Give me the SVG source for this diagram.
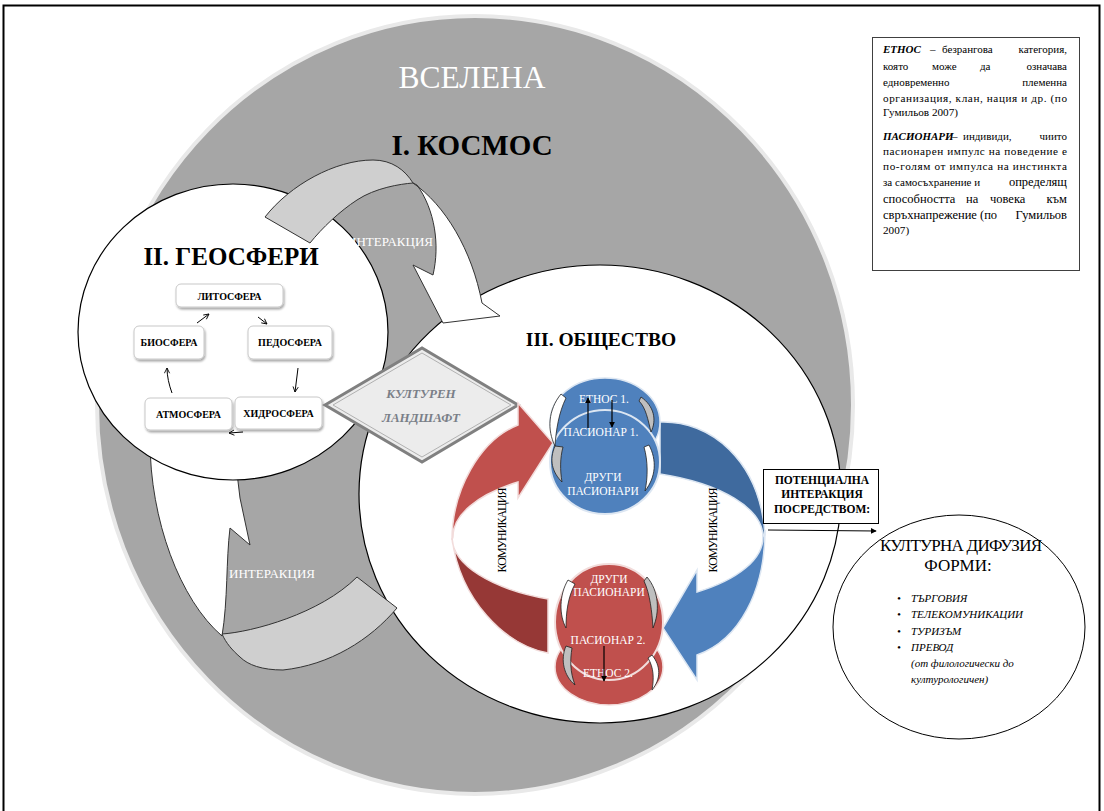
<svg xmlns="http://www.w3.org/2000/svg" width="1104" height="811" viewBox="0 0 1104 811">
<defs>
<style>
.serif{font-family:"Liberation Serif","Times New Roman",serif}
.gbox{fill:#fff;stroke:#c8c8c8;stroke-width:1;filter:url(#sh)}
.gtxt{font-family:"Liberation Serif",serif;font-weight:bold;font-size:10px;text-anchor:middle;fill:#000}
.thin{stroke:#000;stroke-width:1;fill:none}
.wt{fill:#fff;font-family:"Liberation Serif",serif;font-size:11.5px;text-anchor:middle}
.bx{font-family:"Liberation Serif",serif;font-size:11px;fill:#000}
.bxe{font-family:"Liberation Serif",serif;font-size:11px;fill:#000;text-anchor:end}
.mid{font-size:11.2px}
.big{font-size:12.5px}
.bi{font-weight:bold;font-style:italic}
.bul{font-family:"Liberation Serif",serif;font-size:11px;font-style:italic;fill:#000}
.cres{stroke:#222;stroke-width:0.8}
</style>
<filter id="sh" x="-20%" y="-20%" width="140%" height="150%"><feDropShadow dx="1" dy="2" stdDeviation="1.2" flood-color="#000" flood-opacity="0.35"/></filter>
<marker id="v" viewBox="0 0 8 8" refX="7" refY="4" markerWidth="7" markerHeight="7" markerUnits="userSpaceOnUse" orient="auto"><path d="M1,1 L7,4 L1,7" fill="none" stroke="#000" stroke-width="1"/></marker>
<marker id="tri" viewBox="0 0 8 8" refX="7" refY="4" markerWidth="6" markerHeight="6" markerUnits="userSpaceOnUse" orient="auto"><path d="M0,0 L8,4 L0,8 Z" fill="#000"/></marker>
</defs>

<!-- frame -->
<rect x="3.5" y="5.5" width="1096" height="830" fill="#fff" stroke="#000" stroke-width="2"/>

<!-- cosmos -->
<g id="vselena">
<ellipse cx="475" cy="405" rx="378" ry="389" fill="#a6a6a6" stroke="#e9e9e9" stroke-width="4"/>
<text x="472" y="88" class="serif" font-size="31.5" fill="#fff" text-anchor="middle">ВСЕЛЕНА</text>
<text x="472" y="155" class="serif" font-size="29" font-weight="bold" fill="#000" text-anchor="middle">I. КОСМОС</text>
</g>

<!-- society ellipse -->
<g id="obshtestvo">
<ellipse cx="600" cy="494" rx="241" ry="229" fill="#fff" stroke="#000" stroke-width="1.2"/>
<text x="601" y="346" class="serif" font-size="19.5" font-weight="bold" fill="#000" text-anchor="middle">III. ОБЩЕСТВО</text>
</g>

<!-- lower interaction arrow -->
<g id="interaction-bottom">
<path d="M150,440 C150,520 180,600 222,636 C228,600 226,560 230,528 L250,545 L240,498 L233,440 Z" fill="#fff" stroke="#333" stroke-width="1"/>
<path d="M222,634 C252,632 320,614 357,577 L397,608 C370,640 330,665 283,670 C262,670 248,665 240,657 C232,650 226,643 222,634 Z" fill="#cfcfcf" stroke="#333" stroke-width="1"/>
<text x="272" y="578" class="serif" font-size="13" fill="#fff" text-anchor="middle" textLength="86">ИНТЕРАКЦИЯ</text>
</g>

<!-- geospheres -->
<g id="geosferi">
<ellipse cx="233" cy="332" rx="155" ry="148" fill="#fff" stroke="#000" stroke-width="1.2"/>
<text x="231" y="265" class="serif" font-size="25" font-weight="bold" fill="#000" text-anchor="middle">II. ГЕОСФЕРИ</text>
</g>
<g id="litosfera"><rect class="gbox" x="176" y="284" width="107" height="23" rx="5"/><text class="gtxt" x="229.5" y="299.5">ЛИТОСФЕРА</text></g>
<g id="biosfera"><rect class="gbox" x="134" y="326" width="70" height="33" rx="5"/><text class="gtxt" x="169" y="346">БИОСФЕРА</text></g>
<g id="pedosfera"><rect class="gbox" x="248" y="326" width="84" height="33" rx="5"/><text class="gtxt" x="290" y="346">ПЕДОСФЕРА</text></g>
<g id="atmosfera"><rect class="gbox" x="145" y="398" width="87" height="32" rx="5"/><text class="gtxt" x="188.5" y="418">АТМОСФЕРА</text></g>
<g id="hidrosfera"><rect class="gbox" x="235" y="397" width="87" height="32" rx="5"/><text class="gtxt" x="278.5" y="417">ХИДРОСФЕРА</text></g>

<!-- upper interaction arrow -->
<g id="interaction-top">
<path d="M265,217 C290,185 335,160 373,160 C392,160 405,170 413,183 C400,184 375,188 357,200 C340,211 322,228 310,243 Z" fill="#cfcfcf" stroke="#333" stroke-width="1"/>
<path d="M413,183 C445,205 472,250 482,303 L500,316 L443,323 L413,265 L433,275 C440,245 435,210 417,185 Z" fill="#fff" stroke="#333" stroke-width="1"/>
<text x="390" y="246" class="serif" font-size="13" fill="#fff" text-anchor="middle" textLength="86">ИНТЕРАКЦИЯ</text>
</g>

<!-- cultural landscape -->
<g id="kulturen-landshaft">
<polygon points="325,405 422,348 518,405 422,462" fill="#ececec" stroke="#808080" stroke-width="3"/>
<polygon points="333,405 422,353 511,405 422,457" fill="none" stroke="#b0b0b0" stroke-width="1"/>
<text x="421" y="398" class="serif" font-size="13" font-style="italic" font-weight="bold" fill="#7a7f88" text-anchor="middle">КУЛТУРЕН</text>
<text x="421" y="422" class="serif" font-size="13" font-style="italic" font-weight="bold" fill="#7a7f88" text-anchor="middle">ЛАНДШАФТ</text>
</g>

<!-- communication cycle -->
<g id="communication">
<path d="M452,538 A155,67 0 0 0 548,599 L548,653 C505,645 460,600 452,538 Z" fill="#963836" stroke="#f2dcdb" stroke-width="1.5"/>
<path d="M452,540 C452,490 480,440 518,425 L518,403 L553,443 L518,498 L518,482 A155,67 0 0 0 453,537 Z" fill="#c0504d" stroke="#f2dcdb" stroke-width="1.5"/>
<path d="M660,422 C710,420 760,460 765,535 L763,537 A155,67 0 0 0 660,474 Z" fill="#3f6a9e" stroke="#dce6f2" stroke-width="1.5"/>
<path d="M765,530 C765,590 740,640 697,655 L697,680 L663,628 L697,570 L697,592 A155,67 0 0 0 763,537 Z" fill="#4f81bd" stroke="#dce6f2" stroke-width="1.5"/>
<text transform="translate(506,530) rotate(-90)" class="serif" font-size="12" fill="#000" text-anchor="middle" textLength="85">КОМУНИКАЦИЯ</text>
<text transform="translate(717,530) rotate(-90)" class="serif" font-size="12" fill="#000" text-anchor="middle" textLength="85">КОМУНИКАЦИЯ</text>
</g>

<!-- ethnos 1 -->
<g id="etnos1">
<ellipse cx="605" cy="422" rx="55" ry="44" fill="#4f81bd" stroke="#dce6f2" stroke-width="1.5"/>
<ellipse cx="605" cy="462" rx="55" ry="52" fill="#4f81bd" stroke="#dce6f2" stroke-width="2"/>
<path class="cres" d="M561,394 C548,410 547,430 555,446 C556,430 559,412 566,398 Z" fill="#fff"/>
<path class="cres" d="M555,446 C549,460 552,472 562,482 C560,470 560,458 563,447 Z" fill="#bfbfbf"/>
<path class="cres" d="M641,397 C654,406 657,420 651,432 C648,420 646,408 639,401 Z" fill="#bfbfbf"/>
<path class="cres" d="M649,445 C657,460 656,477 645,491 C648,477 648,461 644,447 Z" fill="#fff"/>
<text class="wt" x="604" y="403">ЕТНОС 1.</text>
<text class="wt" x="601" y="436">ПАСИОНАР 1.</text>
<text class="wt" x="603" y="481">ДРУГИ</text>
<text class="wt" x="603" y="495">ПАСИОНАРИ</text>
<line x1="588" y1="428" x2="588" y2="398" stroke="#000" stroke-width="1.2" marker-end="url(#tri)"/>
<line x1="612" y1="400" x2="612" y2="427" stroke="#000" stroke-width="1.2" marker-end="url(#tri)"/>
</g>

<!-- ethnos 2 -->
<g id="etnos2">
<ellipse cx="609" cy="667" rx="54" ry="38" fill="#c0504d" stroke="#f2dcdb" stroke-width="1.5"/>
<ellipse cx="609" cy="622" rx="54" ry="58" fill="#c0504d" stroke="#f2dcdb" stroke-width="2"/>
<path class="cres" d="M568,580 C559,595 559,615 566,628 C566,612 568,597 575,584 Z" fill="#fff"/>
<path class="cres" d="M566,646 C560,660 564,676 575,685 C570,672 570,660 572,648 Z" fill="#bfbfbf"/>
<path class="cres" d="M647,577 C659,591 660,612 653,628 C652,612 650,594 644,581 Z" fill="#bfbfbf"/>
<path class="cres" d="M652,655 C661,666 661,679 652,690 C654,679 654,668 648,658 Z" fill="#fff"/>
<text class="wt" x="609" y="583">ДРУГИ</text>
<text class="wt" x="609" y="596">ПАСИОНАРИ</text>
<text class="wt" x="608" y="644">ПАСИОНАР 2.</text>
<text class="wt" x="608" y="677">ЕТНОС 2.</text>
<line x1="604" y1="646" x2="604" y2="681" stroke="#000" stroke-width="1.2" marker-end="url(#tri)"/>
</g>

<!-- connectors -->
<g id="connectors">
<path d="M197,323 L209,314" class="thin" marker-end="url(#v)"/>
<path d="M258,317 L267,324" class="thin" marker-end="url(#v)"/>
<path d="M298,368 L295,392" class="thin" marker-end="url(#v)"/>
<path d="M243,432 L229,433" class="thin" marker-end="url(#v)"/>
<path d="M172,393 C169,385 167,376 167,368" class="thin" marker-end="url(#v)"/>
<line x1="768" y1="530" x2="876" y2="531" stroke="#000" stroke-width="1" marker-end="url(#tri)"/>
</g>

<!-- potential interaction box -->
<g id="potencialna">
<rect x="763.5" y="469.5" width="115" height="54" fill="#fff" stroke="#000" stroke-width="1"/>
<text x="822" y="484" class="serif" font-size="11.5" font-weight="bold" text-anchor="middle">ПОТЕНЦИАЛНА</text>
<text x="822" y="498" class="serif" font-size="11.5" font-weight="bold" text-anchor="middle">ИНТЕРАКЦИЯ</text>
<text x="822" y="513" class="serif" font-size="11.5" font-weight="bold" text-anchor="middle">ПОСРЕДСТВОМ:</text>
</g>

<!-- cultural diffusion -->
<g id="kulturna-difuzia">
<ellipse cx="959" cy="627" rx="126" ry="112" fill="#fff" stroke="#000" stroke-width="1"/>
<text x="961" y="551" class="serif" font-size="17" text-anchor="middle" textLength="162">КУЛТУРНА ДИФУЗИЯ</text>
<text x="958" y="571" class="serif" font-size="17" text-anchor="middle">ФОРМИ:</text>
<text class="bul" x="897" y="602" font-style="normal">•</text><text class="bul" x="911" y="602">ТЪРГОВИЯ</text>
<text class="bul" x="897" y="618" font-style="normal">•</text><text class="bul" x="911" y="618">ТЕЛЕКОМУНИКАЦИИ</text>
<text class="bul" x="897" y="635" font-style="normal">•</text><text class="bul" x="911" y="635">ТУРИЗЪМ</text>
<text class="bul" x="897" y="651" font-style="normal">•</text><text class="bul" x="911" y="651">ПРЕВОД</text>
<text class="bul" x="911" y="667" font-size="10">(от филологически до</text>
<text class="bul" x="911" y="683" font-size="10">културологичен)</text>
</g>

<!-- definitions box -->
<g id="definicii">
<rect x="872.5" y="37.5" width="207" height="233" fill="#fff" stroke="#404040" stroke-width="1"/>
<text class="bx" y="53"><tspan class="bi" x="883">ЕТНОС</tspan><tspan x="930">–</tspan><tspan x="942">безрангова</tspan></text>
<text class="bxe" x="1067" y="53">категория,</text>
<text class="bx" y="70"><tspan x="883">която</tspan><tspan x="932">може</tspan><tspan x="980">да</tspan></text>
<text class="bxe" x="1067" y="70">означава</text>
<text class="bx" x="883" y="86">едновременно</text>
<text class="bxe" x="1067" y="86">племенна</text>
<text class="bx mid" x="883" y="102" textLength="184" lengthAdjust="spacing">организация, клан, нация и др. (по</text>
<text class="bx mid" x="883" y="116">Гумильов 2007)</text>
<text class="bx" y="140"><tspan class="bi" x="883">ПАСИОНАРИ</tspan><tspan x="952">–</tspan><tspan x="963">индивиди,</tspan></text>
<text class="bxe" x="1067" y="140">чиито</text>
<text class="bx mid" x="883" y="155" textLength="184" lengthAdjust="spacing">пасионарен импулс на поведение е</text>
<text class="bx mid" x="883" y="170" textLength="184" lengthAdjust="spacing">по-голям от импулса на инстинкта</text>
<text class="bx" x="883" y="186">за самосъхранение и</text>
<text class="bxe big" x="1067" y="186">определящ</text>
<text class="bx big" y="203"><tspan x="883">способността</tspan><tspan x="966">на</tspan><tspan x="990">човека</tspan></text>
<text class="bxe big" x="1067" y="203">към</text>
<text class="bx big" y="219"><tspan x="883">свръхнапрежение</tspan><tspan x="980">(по</tspan></text>
<text class="bxe big" x="1067" y="219">Гумильов</text>
<text class="bx mid" x="883" y="234">2007)</text>
</g>
</svg>
